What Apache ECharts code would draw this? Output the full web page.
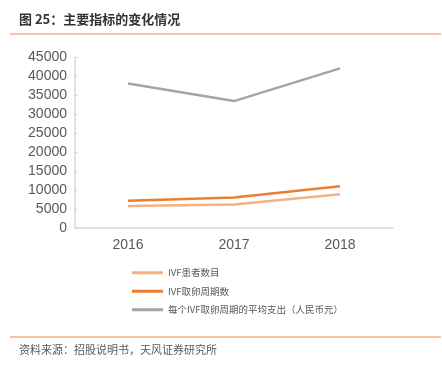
<!DOCTYPE html>
<html>
<head>
<meta charset="utf-8">
<script src="https://cdn.jsdelivr.net/npm/echarts@6/dist/echarts.min.js"></script>
<style>
  html, body { margin: 0; padding: 0; background: #fff; }
  #chart { width: 442px; height: 367px; }
</style>
</head>
<body>
<div id="chart"></div>
<script>
var years = ["2016", "2017", "2018"];
var patients = [5800, 6200, 8900];
var cycles = [7200, 8000, 11000];
var avgCost = [38000, 33400, 42000];
var seriesNames = ["IVF患者数目", "IVF取卵周期数", "每个IVF取卵周期的平均支出（人民币元）"];
var seriesColors = ["#F4B183", "#ED7D31", "#A5A5A5"];

var chart = echarts.init(document.getElementById("chart"));
var font = "'Liberation Sans', 'Noto Sans CJK SC', sans-serif";

var option = {
  animation: false,
  textStyle: { fontFamily: font },
  graphic: [
    {
      type: "text",
      left: 19, top: 13,
      style: { text: "图 25：主要指标的变化情况", fill: "#333", font: "bold 13px 'Noto Sans CJK SC', sans-serif" }
    },
    {
      type: "line",
      shape: { x1: 10, y1: 34, x2: 441, y2: 34 },
      style: { stroke: "#F4B183", lineWidth: 1.5 }
    },
    {
      type: "line",
      shape: { x1: 10, y1: 337, x2: 441, y2: 337 },
      style: { stroke: "#F4B183", lineWidth: 1.5 }
    },
    {
      type: "text",
      left: 19, top: 344,
      style: { text: "资料来源：招股说明书，天风证券研究所", fill: "#595959", font: "11px 'Noto Sans CJK SC', sans-serif" }
    }
  ],
  legend: {
    orient: "vertical",
    left: 127,
    top: 263,
    itemWidth: 31,
    itemHeight: 3,
    itemGap: 9,
    icon: "rect",
    textStyle: { fontSize: 9.5, color: "#595959", fontFamily: "'Noto Sans CJK SC', sans-serif" },
    data: seriesNames
  },
  grid: { left: 75, right: 49, top: 57, bottom: 139, containLabel: false },
  xAxis: {
    type: "category",
    data: years,
    boundaryGap: true,
    axisLine: { lineStyle: { color: "#D9D9D9", width: 1.5 } },
    axisTick: { show: false },
    axisLabel: { fontSize: 14, color: "#595959", margin: 10 }
  },
  yAxis: {
    type: "value",
    min: 0,
    max: 45000,
    interval: 5000,
    splitLine: { show: false },
    axisLine: { show: true, lineStyle: { color: "#D9D9D9", width: 1.5 } },
    axisTick: { show: true, inside: true, length: 3, lineStyle: { color: "#D9D9D9" } },
    axisLabel: { fontSize: 14, color: "#595959", margin: 8, formatter: function (v) { return String(v); } }
  },
  series: [
    { name: seriesNames[0], type: "line", data: patients, color: seriesColors[0], symbol: "none", lineStyle: { width: 2.5 } },
    { name: seriesNames[1], type: "line", data: cycles, color: seriesColors[1], symbol: "none", lineStyle: { width: 2.5 } },
    { name: seriesNames[2], type: "line", data: avgCost, color: seriesColors[2], symbol: "none", lineStyle: { width: 2.5 } }
  ]
};
chart.setOption(option);
</script>
</body>
</html>
